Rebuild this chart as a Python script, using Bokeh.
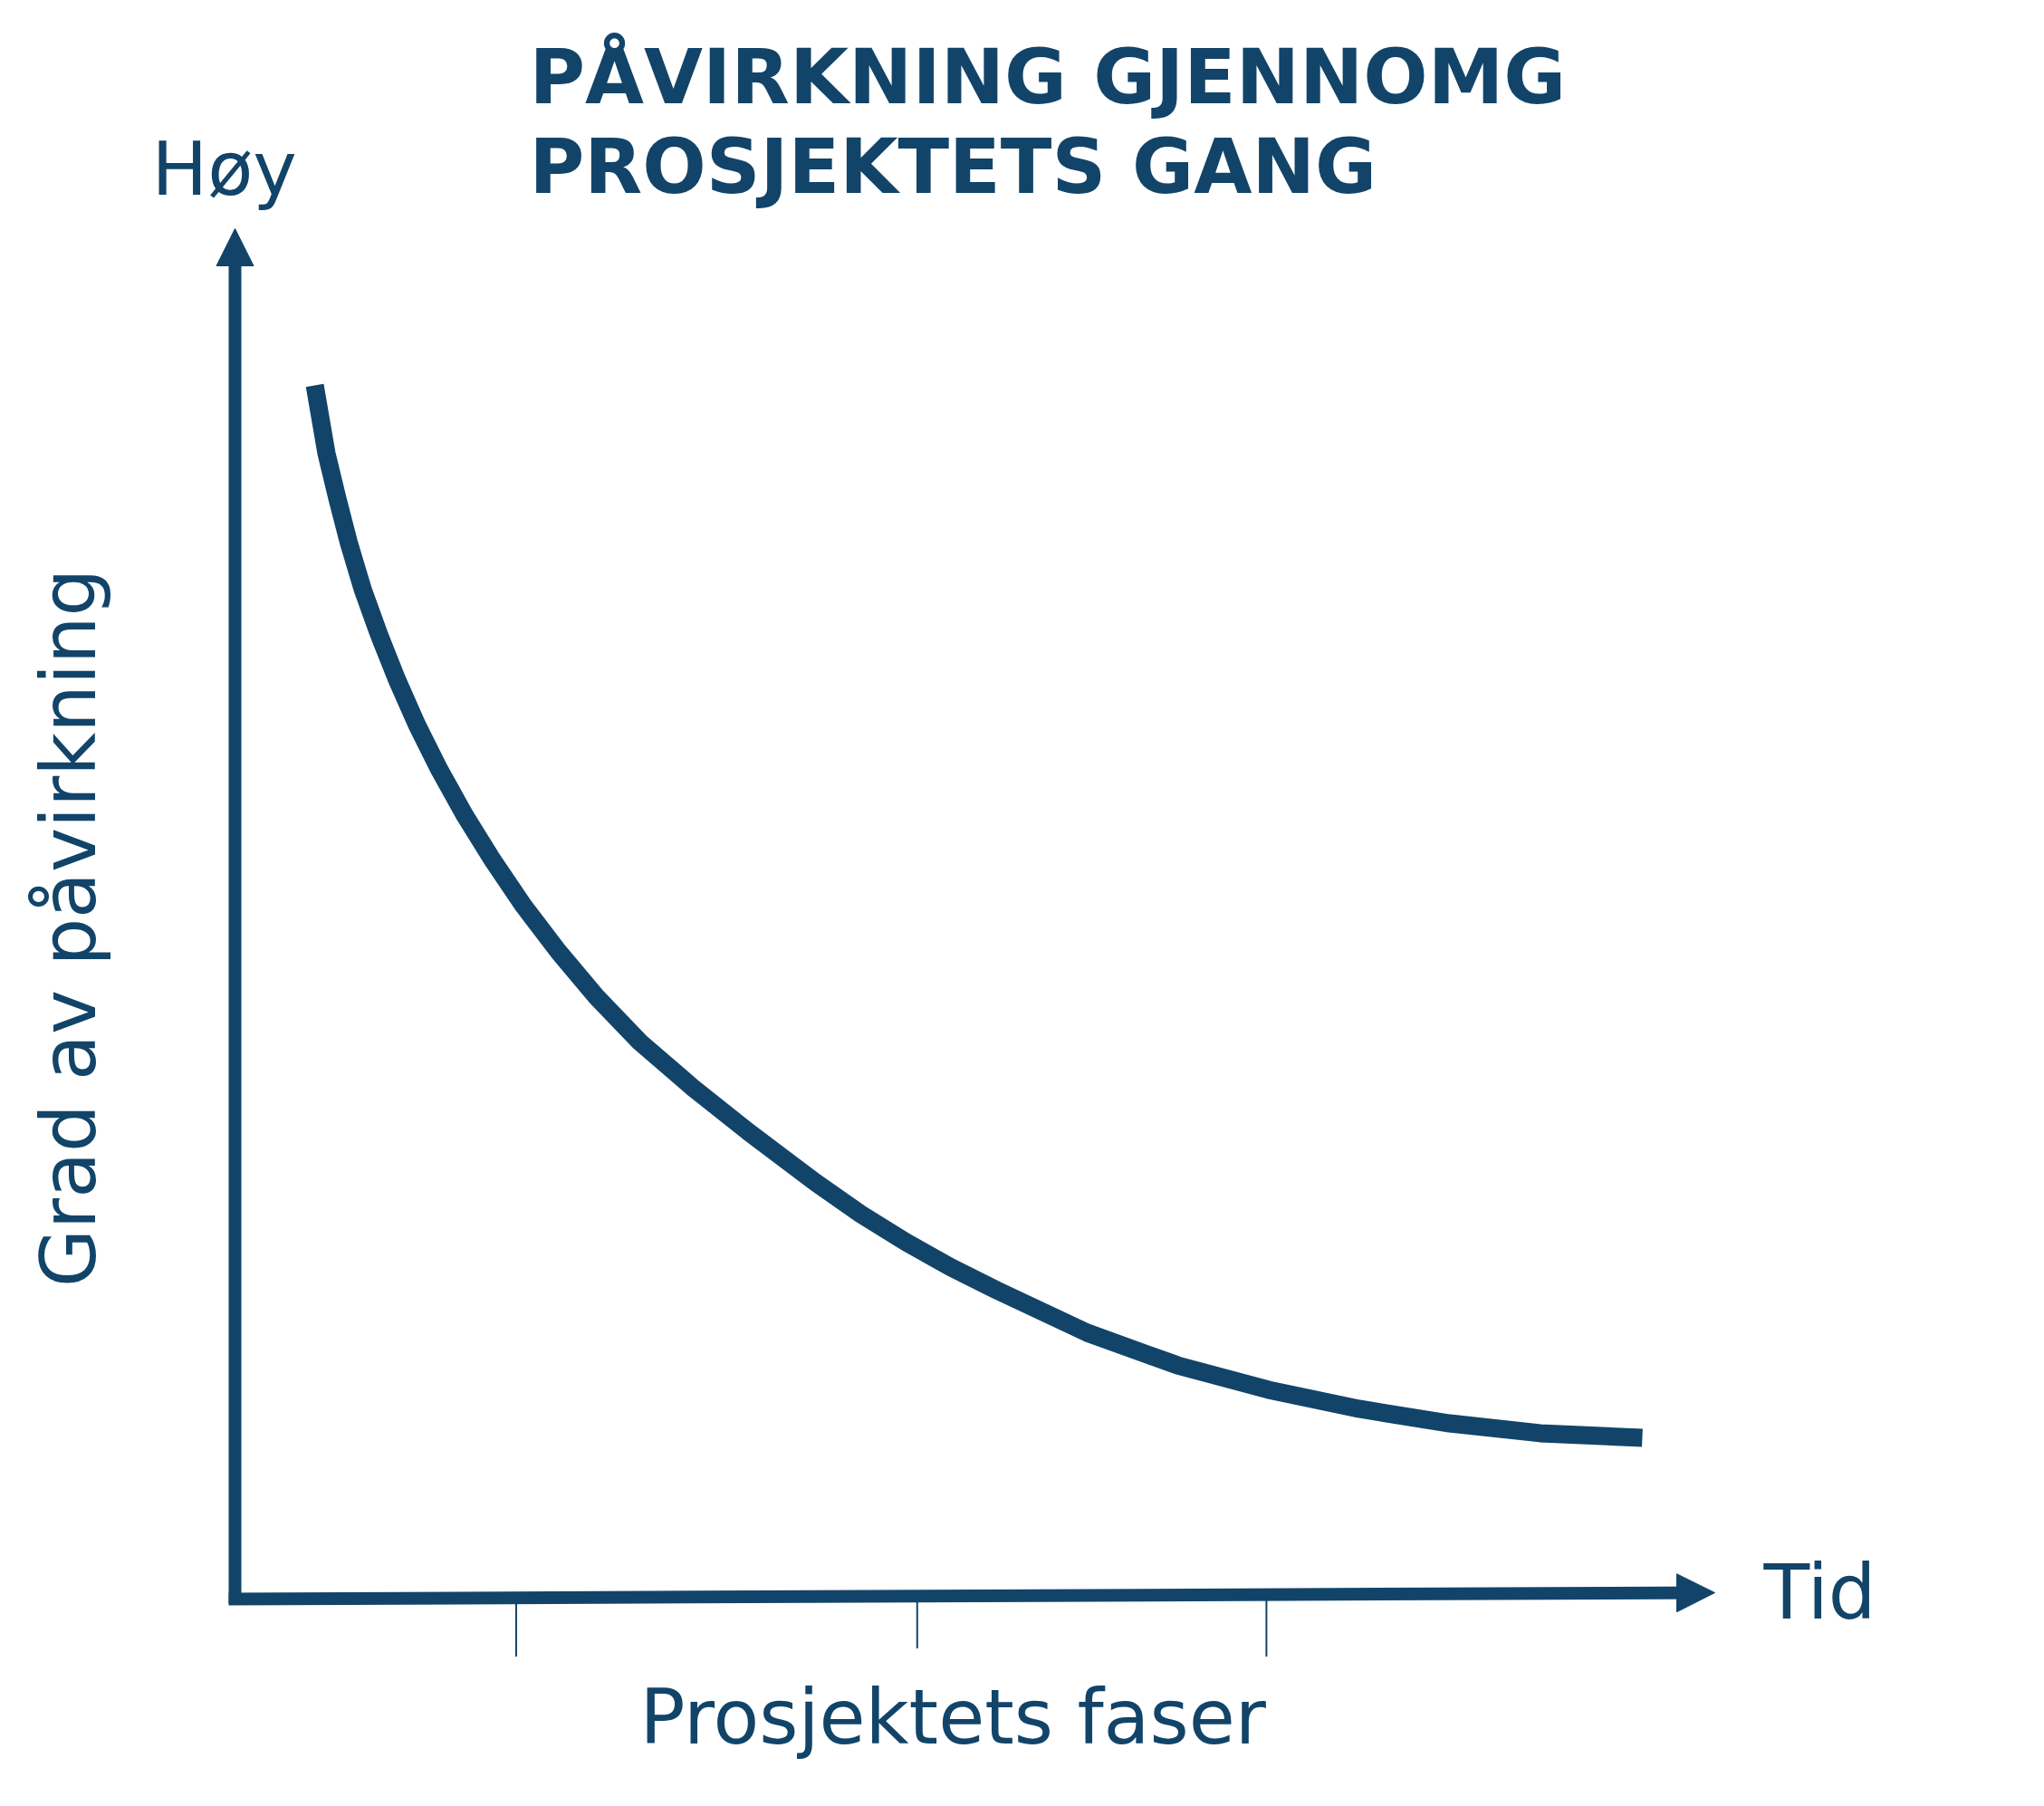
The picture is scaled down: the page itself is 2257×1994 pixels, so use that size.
import math
from bokeh.plotting import figure
from bokeh.models import Range1d, Arrow, NormalHead
from bokeh.core.properties import value
from bokeh.embed import file_html
from bokeh.resources import INLINE

# ---- data (time 0..100 along x axis, influence 0..100 along y axis) ----
time = [5.39, 6.18, 6.92, 7.71, 8.63, 9.73, 10.95, 12.30, 13.83, 15.54,
        17.44, 19.52, 21.85, 24.42, 27.36, 30.91, 34.76, 39.23, 42.29, 45.35,
        48.41, 51.47, 57.59, 63.71, 69.83, 75.95, 82.07, 88.19, 95.10]
influence = [88.57, 83.61, 80.30, 77.00, 73.69, 70.39, 67.08, 63.78, 60.48, 57.17,
             53.87, 50.56, 47.26, 43.95, 40.65, 37.34, 34.04, 30.40, 28.09, 26.04,
             24.19, 22.54, 19.43, 17.05, 15.27, 13.88, 12.82, 12.10, 11.76]
phase_ticks = [19.0, 46.1, 69.7]
phase_tick_depth = [-4.2, -3.6, -4.2]
x_axis_rise = [0.0, 0.4]   # slight rise of the time axis from origin to arrow

title_lines = ["PÅVIRKNING GJENNOMG", "PROSJEKTETS GANG"]
y_label = "Grad av påvirkning"
y_high = "Høy"
x_end_label = "Tid"
x_label = "Prosjektets faser"

# ---- layout ----
W, H = 2241, 1978
OX, OY = 259, 1765          # canvas position of the axis origin
SX, SY = 16.34, 15.13       # pixels per data unit
TXT = 0.37                  # baseline correction (em)

def X(px):
    return (px - OX) / SX

def Y(py):
    return (OY - py) / SY

COL = "#124469"
FONT = "DejaVu Sans"

p = figure(width=W, height=H, output_backend="svg", toolbar_location=None,
           x_axis_type=None, y_axis_type=None, min_border=0,
           x_range=Range1d(-OX / SX, (W - OX) / SX),
           y_range=Range1d(-(H - OY) / SY, OY / SY))
p.grid.visible = False
p.outline_line_color = None
p.background_fill_color = "white"
p.border_fill_color = "white"

# axes with arrow heads
p.add_layout(Arrow(end=NormalHead(size=41, fill_color=COL, line_color=COL, line_width=1),
                   x_start=0, y_start=Y(1770), x_end=0, y_end=100,
                   line_color=COL, line_width=14, line_cap="butt"))
p.add_layout(Arrow(end=NormalHead(size=42, fill_color=COL, line_color=COL, line_width=1),
                   x_start=X(252), y_start=x_axis_rise[0], x_end=100, y_end=x_axis_rise[1] + 0.06,
                   line_color=COL, line_width=14, line_cap="butt"))

# phase ticks
tick_top = [x_axis_rise[0] + (x_axis_rise[1] - x_axis_rise[0]) * t / 100 for t in phase_ticks]
p.segment(x0=phase_ticks, y0=tick_top, x1=phase_ticks, y1=phase_tick_depth,
          line_color=COL, line_width=2)

# curve
p.line(time, influence, line_color=COL, line_width=20, line_cap="butt", line_join="round")

# texts
def put(px, py, txt, size, bold=False, angle=0.0, align="left"):
    off = TXT * size
    if angle == 0.0:
        x, y = X(px), Y(py - off)
    else:
        x, y = X(px - off), Y(py)
    p.text(x=[x], y=[y], text=[txt], angle=angle, text_font=value(FONT),
           text_font_style="bold" if bold else "normal",
           text_font_size=f"{size}px", text_color=COL,
           text_baseline="alphabetic", text_align=align)

put(584, 116, title_lines[0], 84, bold=True)
put(584, 215, title_lines[1], 83, bold=True)
put(167, 216, y_high, 82)
put(1947, 1789, x_end_label, 83)
put(706, 1927, x_label, 83)
put(107, 1024, y_label, 83, angle=math.pi / 2, align="center")

open("out.html", "w").write(file_html(p, INLINE))
